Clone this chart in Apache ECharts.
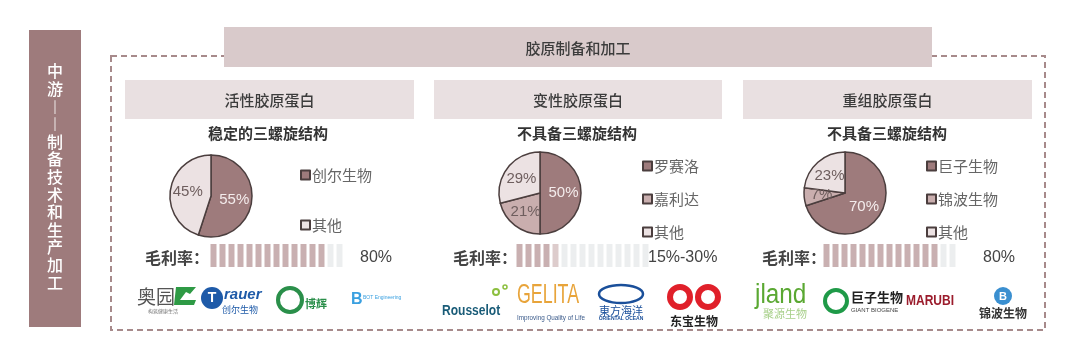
<!DOCTYPE html>
<html>
<head>
<meta charset="utf-8">
<script src="https://cdn.jsdelivr.net/npm/echarts@6/dist/echarts.min.js"></script>
<style>
  html, body { margin: 0; padding: 0; background: #fff; }
  #chart { width: 1080px; height: 347px; }
</style>
</head>
<body>
<div id="chart"></div>
<script>
'use strict';

// data
var pieNames = [['创尔生物', '其他'], ['罗赛洛', '嘉利达', '其他'], ['巨子生物', '锦波生物', '其他']];
var pieValues = [[55, 45], [50, 21, 29], [70, 7, 23]];
var sectionTitles = ['活性胶原蛋白', '变性胶原蛋白', '重组胶原蛋白'];
var structureLabels = ['稳定的三螺旋结构', '不具备三螺旋结构', '不具备三螺旋结构'];
var marginLabels = ['80%', '15%-30%', '80%'];
var marginFilledBars = [13, 4.5, 13];
var barCount = 15;
var sideTitle = '中游︱︱制备技术和生产加工';
var topTitle = '胶原制备和加工';

var DARK = '#9e7b7c', MID = '#c9aeae', LIGHT = '#ece2e3', EDGE = '#4b3e3e';
var FONT = '"Noto Sans CJK SC", "Noto Sans", sans-serif';
var NUMFONT = '"Liberation Sans Narrow", "Liberation Sans", sans-serif';

// layout of the three panels
var panelX = [125, 434, 743];
var panelW = [289, 288, 289];
var pieCenters = [[211, 196], [540, 193], [845, 193]];
var pieRadius = 41;
var legendPos = [[300, 167, 34], [642, 158, 17], [926, 158, 17]];
var barLeft = [209, 515, 822];
var marginTextX = [145, 453, 762];
var marginValueX = [360, 648, 983];

function sliceColor(n, i) {
    if (i === 0) return DARK;
    if (i === n - 1) return LIGHT;
    return MID;
}

var series = [];
var legends = [];
var grids = [];
var xAxes = [];
var yAxes = [];

pieValues.forEach(function(vals, p) {
    var names = pieNames[p];
    series.push({
        type: 'pie',
        center: pieCenters[p],
        radius: [0, pieRadius],
        startAngle: 90,
        clockwise: true,
        silent: true,
        label: {
            position: 'inside',
            formatter: '{c}%',
            fontFamily: NUMFONT,
            fontSize: 15
        },
        labelLine: { show: false },
        data: vals.map(function(v, i) {
            return {
                name: names[i],
                value: v,
                itemStyle: { color: sliceColor(vals.length, i), borderColor: EDGE, borderWidth: 1.5 },
                label: { color: i === 0 ? '#f4ecec' : '#6e5e5e' }
            };
        })
    });
    legends.push({
        orient: 'vertical',
        left: legendPos[p][0],
        top: legendPos[p][1],
        padding: 0,
        itemGap: legendPos[p][2],
        itemWidth: 9,
        itemHeight: 9,
        icon: 'rect',
        selectedMode: false,
        data: names,
        textStyle: { fontFamily: FONT, fontSize: 15, color: '#666', lineHeight: 16, padding: [0, 0, 0, -3] }
    });

    // gross margin bars
    grids.push({ left: barLeft[p], top: 244, width: 135, height: 23 });
    var cats = [];
    var barData = [];
    for (var i = 0; i < barCount; i++) {
        cats.push(String(i + 1));
        var filled = marginFilledBars[p];
        var col = (i + 1 <= filled) ? '#c9b0b1' : (i < filled ? '#ddcccc' : '#eceeef');
        barData.push({ value: 1, itemStyle: { color: col } });
    }
    xAxes.push({ type: 'category', gridIndex: p, data: cats, show: false, boundaryGap: true });
    yAxes.push({ type: 'value', gridIndex: p, min: 0, max: 1, show: false });
    series.push({
        type: 'bar',
        xAxisIndex: p,
        yAxisIndex: p,
        barWidth: 6,
        silent: true,
        data: barData
    });
});

// decoration: boxes and text
var graphic = [];
graphic.push({
    type: 'rect', shape: { x: 29, y: 30, width: 52, height: 297 },
    style: { fill: '#9e7b7c' }
});
graphic.push({
    type: 'text', style: {
        x: 55, y: 177, text: sideTitle.split('').join('\n'),
        fill: '#fff', font: '500 16px ' + FONT, lineHeight: 17.6,
        textAlign: 'center', textVerticalAlign: 'middle'
    }
});
graphic.push({
    type: 'rect', shape: { x: 111, y: 56, width: 934, height: 274 },
    style: { fill: null, stroke: '#a78a8b', lineWidth: 2, lineDash: [6, 4] }
});
graphic.push({
    type: 'rect', shape: { x: 224, y: 27, width: 708, height: 40 },
    style: { fill: '#d9cacb' }
});
graphic.push({
    type: 'text', style: {
        x: 578, y: 48, text: topTitle, fill: '#3c3c3c',
        font: '500 15px ' + FONT, textAlign: 'center', textVerticalAlign: 'middle'
    }
});

for (var p = 0; p < 3; p++) {
    graphic.push({
        type: 'rect', shape: { x: panelX[p], y: 80, width: panelW[p], height: 39 },
        style: { fill: '#e9e0e1' }
    });
    graphic.push({
        type: 'text', style: {
            x: panelX[p] + panelW[p] / 2, y: 100, text: sectionTitles[p], fill: '#3c3c3c',
            font: '500 15px ' + FONT, textAlign: 'center', textVerticalAlign: 'middle'
        }
    });
    graphic.push({
        type: 'text', style: {
            x: [268, 577, 887][p], y: 133, text: structureLabels[p], fill: '#333',
            font: '600 15px ' + FONT, textAlign: 'center', textVerticalAlign: 'middle'
        }
    });
    graphic.push({
        type: 'text', style: {
            x: marginTextX[p], y: 258, text: '毛利率：', fill: '#444',
            font: '600 16px ' + FONT, textAlign: 'left', textVerticalAlign: 'middle'
        }
    });
    graphic.push({
        type: 'text', style: {
            x: marginValueX[p], y: 258, text: marginLabels[p], fill: '#444',
            font: '16px ' + NUMFONT, textAlign: 'left', textVerticalAlign: 'middle'
        }
    });
}

// company logos, drawn as text
function logoText(x, y, text, font, fill, align, sx) {
    graphic.push({
        type: 'text', x: x, y: y, scaleX: sx || 1,
        style: {
            x: 0, y: 0, text: text, font: font, fill: fill,
            textAlign: align || 'left', textVerticalAlign: 'middle'
        }
    });
}
function ring(cx, cy, r, color, w) {
    graphic.push({
        type: 'circle', shape: { cx: cx, cy: cy, r: r },
        style: { fill: null, stroke: color, lineWidth: w }
    });
}

// panel 1
logoText(137, 297, '奥园', '19px ' + FONT, '#555');
graphic.push({ type: 'polygon', shape: { points: [[176, 287], [196, 287], [190, 294], [186, 292], [180, 300], [196, 300], [194, 305], [174, 305]] }, style: { fill: '#2e9a45' } });
logoText(163, 311, '构筑健康生活', '5px ' + FONT, '#777', 'center');
graphic.push({ type: 'circle', shape: { cx: 212, cy: 298, r: 11 }, style: { fill: '#1e5aa8' } });
logoText(212, 298, 'T', 'bold 14px ' + NUMFONT, '#fff', 'center');
logoText(224, 295, 'rauer', 'italic bold 15px ' + NUMFONT, '#1e5aa8');
logoText(240, 310, '创尔生物', '9px ' + FONT, '#1e5aa8', 'center');
ring(290, 300, 12, '#2a8f4a', 4);
logoText(305, 304, '博辉', 'bold 11px ' + FONT, '#2a8f4a');
logoText(351, 300, 'B', 'bold 16px ' + NUMFONT, '#3aa0e0');
logoText(363, 298, 'BOT Engineering', '5px ' + NUMFONT, '#3aa0e0');

// panel 2
logoText(442, 311, 'Rousselot', 'bold 14px ' + NUMFONT, '#1a5c78', 'left', 0.86);
ring(496, 292, 3, '#8cbf3f', 2);
ring(505, 287, 2, '#8cbf3f', 1.5);
logoText(517, 296, 'GELITA', '27px ' + NUMFONT, '#e8a43a', 'left', 0.66);
logoText(517, 318, 'Improving Quality of Life', '7px ' + NUMFONT, '#3a5a8a', 'left', 0.9);
graphic.push({ type: 'ellipse', shape: { cx: 621, cy: 294, rx: 22, ry: 9 }, style: { fill: null, stroke: '#1a4f9a', lineWidth: 2.5 } });
logoText(621, 311, '東方海洋', '11px ' + FONT, '#1a4f9a', 'center');
logoText(621, 319, 'ORIENTAL OCEAN', 'bold 5px ' + NUMFONT, '#1a4f9a', 'center');
ring(680, 297, 10, '#e0202a', 6);
ring(708, 297, 10, '#e0202a', 6);
logoText(694, 321, '东宝生物', 'bold 12px ' + FONT, '#222', 'center');

// panel 3
logoText(755, 296, 'jland', '27px ' + NUMFONT, '#5aa832', 'left', 0.9);
logoText(785, 314, '聚源生物', '11px ' + FONT, '#a8d08a', 'center');
ring(836, 301, 11, '#1f9a48', 4);
logoText(851, 297, '巨子生物', 'bold 13px ' + FONT, '#222');
logoText(851, 310, 'GIANT BIOGENE', '6px ' + NUMFONT, '#444');
logoText(906, 301, 'MARUBI', 'bold 15px ' + NUMFONT, '#9b1c2c', 'left', 0.8);
graphic.push({ type: 'circle', shape: { cx: 1003, cy: 296, r: 9 }, style: { fill: '#3a8fd0' } });
logoText(1003, 297, 'B', 'bold 11px ' + NUMFONT, '#fff', 'center');
logoText(1003, 313, '锦波生物', 'bold 12px ' + FONT, '#333', 'center');

var chart = echarts.init(document.getElementById('chart'), null, { renderer: 'canvas' });
chart.setOption({
    animation: false,
    backgroundColor: '#fff',
    legend: legends,
    grid: grids,
    xAxis: xAxes,
    yAxis: yAxes,
    series: series,
    graphic: graphic
});
</script>
</body>
</html>
